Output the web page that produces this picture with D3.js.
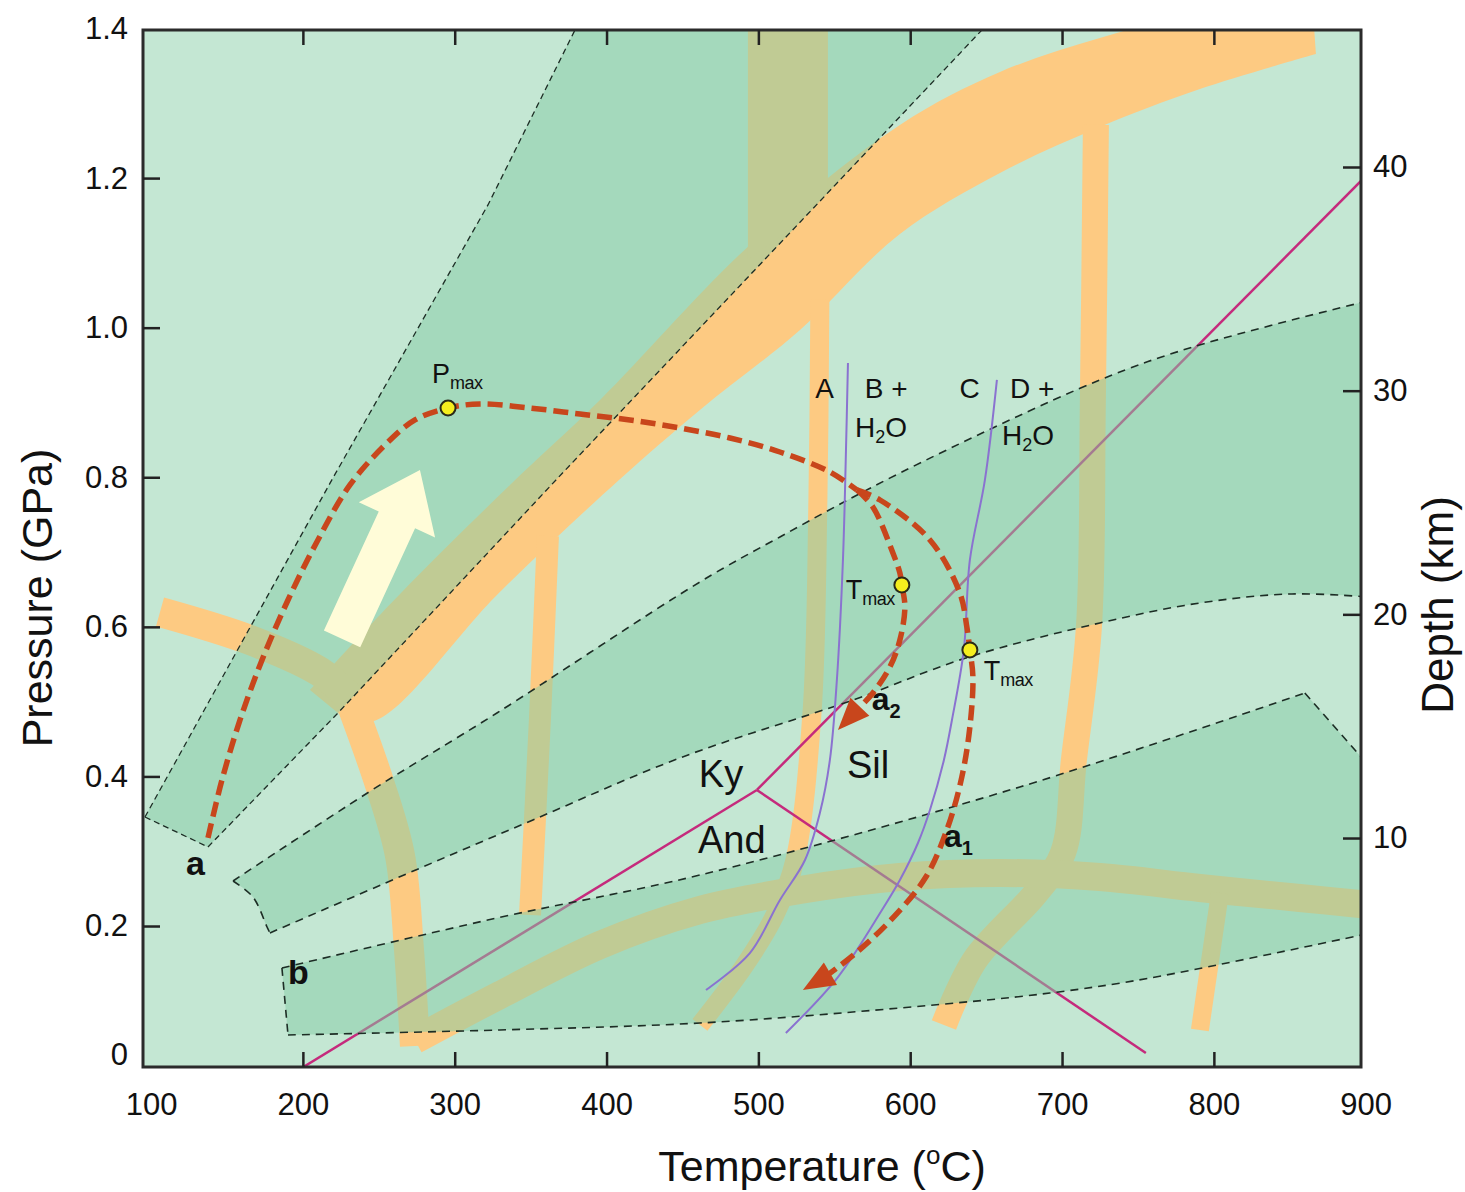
<!DOCTYPE html>
<html>
<head>
<meta charset="utf-8">
<script src="https://cdn.jsdelivr.net/npm/d3@7"></script>
<style>
  body { margin: 0; background: #fff; }
  text { font-family: "Liberation Sans", Arial, Helvetica, sans-serif; fill: #111; }
</style>
</head>
<body>
<div id="chart"></div>
<script>
// all points are [temperature (°C), pressure (GPa)]

// geotherm field "a" (the fan)
const fanALeft = [[96.0, 0.3458], [219.8, 0.7991], [321.9, 1.1641], [384.6, 1.42]];
const fanARight = [[137.5, 0.3057], [223.1, 0.4848], [366.7, 0.7964], [657.5, 1.42]];

// middle geotherm band
const geothermD1 = [[154.0, 0.2602], [243.5, 0.3792], [327.8, 0.4848], [461.5, 0.6600], [514.2, 0.7202],
  [593.2, 0.8057], [724.9, 0.9301], [786.2, 0.9742], [905, 1.0376]];
const geothermD2 = [[178.3, 0.1907], [266.6, 0.2682], [351.5, 0.3418], [448.3, 0.4247], [562.3, 0.5022],
  [636.7, 0.5584], [724.9, 0.6052], [790.8, 0.6319], [851.4, 0.6440], [905, 0.6395]];
const cornerD = [[154.0, 0.2602], [167.1, 0.2388], [176.4, 0.1987], [178.3, 0.1907]];

// geotherm field "b"
const geothermD3 = [[186.2, 0.1439], [327.8, 0.2107], [461.5, 0.2682], [672.2, 0.3859], [859.9, 0.5116]];
const peakEdge = [[859.9, 0.5116], [905, 0.4073]];
const geothermD4 = [[190.2, 0.0543], [329.8, 0.0610], [461.5, 0.0703], [593.2, 0.0904], [692.0, 0.1104],
  [757.9, 0.1305], [905, 0.1913]];
const bandBLeft = [[186.2, 0.1439], [190.2, 0.0543]];

// orange reaction bands
const mainBandUpper = [[204.7, 0.5156], [264.6, 0.6453], [336.4, 0.7897], [395.7, 0.9034], [495.8, 1.1133],
  [593.2, 1.2711], [659.1, 1.3419], [724.9, 1.3874], [790.8, 1.4221], [864.5, 1.4449]];
const mainBandLower = [[867.2, 1.3660], [790.8, 1.3192], [724.9, 1.2684], [659.1, 1.2069], [593.2, 1.1253],
  [527.4, 0.9970], [461.5, 0.8900], [408.2, 0.7964], [329.1, 0.6453], [246.8, 0.4741], [223.1, 0.4848]];
const topBand = [[493.1, 1.42], [545.8, 1.42], [545.8, 1.1708], [493.1, 1.0905]];
const bandDown = [[231.0, 0.5022], [250.8, 0.3886], [264.0, 0.2936], [269.9, 0.1679], [273.8, 0.0396]];
const bandLeft = [[105.9, 0.6199], [165.2, 0.5824], [211.3, 0.5397], [232.3, 0.5022]];
const bandA = [[540.5, 1.0371], [539.2, 0.7696], [535.3, 0.4848], [524.1, 0.2883], [510.9, 0.2147],
  [491.1, 0.1479], [461.5, 0.0677]];
const band360 = [[361.4, 0.7215], [356.1, 0.4755], [349.6, 0.2147]];
const band720 = [[722.3, 1.2711], [720.3, 0.9034], [717.7, 0.5998], [707.8, 0.4220], [700.6, 0.2976],
  [682.8, 0.2442], [642.6, 0.1546], [622.2, 0.0677]];
const bandLow = [[273.8, 0.0476], [329.8, 0.1078], [395.7, 0.1746], [461.5, 0.2214], [527.4, 0.2482],
  [593.2, 0.2655], [659.1, 0.2709], [724.9, 0.2655], [790.8, 0.2508], [856.6, 0.2375], [902.7, 0.2281]];
const band800 = [[804.0, 0.2442], [790.8, 0.0610]];

// Al2SiO5 triple point and its three boundaries
const tripleJunction = [499.0, 0.3819];
const kyAndEnd = [200.3, 0.0115];
const kySilEnd = [896.9, 1.1962];
const andSilEnd = [755.2, 0.0302];

// dehydration reactions A = B + H2O and C = D + H2O
const reactionAB = [[559.0, 0.9528], [557.7, 0.8365], [555.7, 0.6894], [551.7, 0.5290], [547.1, 0.4220],
  [540.5, 0.3511], [530.7, 0.2883], [514.2, 0.2348], [494.4, 0.1639], [465.5, 0.1145]];
const reactionCD = [[657.1, 0.9301], [649.2, 0.7964], [639.3, 0.6894], [635.3, 0.5691], [627.5, 0.4755],
  [622.2, 0.4220], [613.0, 0.3551], [605.1, 0.3110], [593.2, 0.2615], [581.4, 0.2214], [552.4, 0.1318],
  [518.1, 0.0570]];

// P-T paths
const pathCommon = [[137.5, 0.3177], [146.7, 0.3952], [158.6, 0.4755], [173.1, 0.5557], [190.2, 0.6359],
  [209.9, 0.7162], [231.0, 0.7897], [254.1, 0.8432], [273.8, 0.8766], [295.6, 0.8926], [316.6, 0.8980],
  [349.6, 0.8926], [382.5, 0.8846], [415.4, 0.8766], [448.3, 0.8659], [481.3, 0.8525], [514.2, 0.8338],
  [547.1, 0.8071], [564.9, 0.7830]];
const pathA2 = [[564.9, 0.7830], [575.4, 0.7603], [588.6, 0.6988], [593.2, 0.6720], [594.5, 0.6560],
  [596.5, 0.6266], [593.2, 0.5824], [586.6, 0.5463], [575.4, 0.5116], [563.6, 0.4862], [552.4, 0.4621]];
const pathA1 = [[564.9, 0.7830], [580.1, 0.7696], [613.0, 0.7162], [632.7, 0.6453], [637.3, 0.5998],
  [639.3, 0.5691], [641.3, 0.5330], [639.3, 0.4661], [634.0, 0.3993], [624.8, 0.3324], [610.3, 0.2655],
  [587.3, 0.2081], [564.2, 0.1639], [543.8, 0.1318], [529.3, 0.1145]];
const peakPoints = [[295.6, 0.8926], [594.5, 0.6560], [639.3, 0.5691]];
const burialArrow = [[225.8, 0.5838], [277.1, 0.8098]];

// axis ticks
const tempTicks = [200, 300, 400, 500, 600, 700, 800];
const tempLabels = [100, 200, 300, 400, 500, 600, 700, 800, 900];
const pressTicks = [0.2, 0.4, 0.6, 0.8, 1.0, 1.2];
const pressLabels = [0, 0.2, 0.4, 0.6, 0.8, 1.0, 1.2, 1.4];
const depthTicks = [10, 20, 30, 40];

// set the dimensions and margins of the graph
const margin = {top: 30, right: 104, bottom: 125, left: 143},
  width = 1465 - margin.left - margin.right,
  height = 1192 - margin.top - margin.bottom;

const svg = d3.select("#chart")
  .append("svg")
    .attr("width", width + margin.left + margin.right)
    .attr("height", height + margin.top + margin.bottom)
  .append("g")
    .attr("transform", "translate(" + margin.left + "," + margin.top + ")");

const x = d3.scaleLinear().domain([94.7, 896.9]).range([0, width]);
const y = d3.scaleLinear().domain([0.0115, 1.398]).range([height, 0]);
const depth = d3.scaleLinear().domain([0, 40]).range([1031.7, 137]);

const smooth = d3.line().x(d => x(d[0])).y(d => y(d[1])).curve(d3.curveCatmullRom.alpha(0.5));
const straight = d3.line().x(d => x(d[0])).y(d => y(d[1]));
const join = (...parts) => parts.map((p, i) => i ? p.replace(/^M/, "L") : p).join("") + "Z";

svg.append("clipPath").attr("id", "plot-clip")
  .append("rect").attr("width", width).attr("height", height);
const plot = svg.append("g").attr("clip-path", "url(#plot-clip)");

// background
plot.append("rect").attr("width", width).attr("height", height).attr("fill", "#c4e7d3");

// orange bands
const orange = "#fdca82";
plot.append("path")
  .attr("d", join(smooth(mainBandUpper), smooth(mainBandLower)))
  .attr("fill", orange);
plot.append("path").attr("d", join(straight(topBand))).attr("fill", orange);
[[bandDown, 30], [bandLeft, 30], [bandA, 19], [band360, 22], [band720, 26], [bandLow, 28], [band800, 18]]
  .forEach(function(b) {
    plot.append("path")
      .attr("d", smooth(b[0]))
      .attr("fill", "none")
      .attr("stroke", orange)
      .attr("stroke-width", b[1])
      .attr("stroke-linejoin", "round");
  });

// aluminosilicate lines (under the green fields)
plot.selectAll("line.alsi")
  .data([kyAndEnd, kySilEnd, andSilEnd])
  .join("line")
    .attr("class", "alsi")
    .attr("x1", x(tripleJunction[0])).attr("y1", y(tripleJunction[1]))
    .attr("x2", d => x(d[0])).attr("y2", d => y(d[1]))
    .attr("stroke", "#c52a7c")
    .attr("stroke-width", 2.5);

// darker geotherm fields, semi transparent
const fields = [
  join(straight(fanALeft), straight(fanARight.slice().reverse())),
  join(smooth(geothermD1), smooth(geothermD2.slice().reverse()), smooth(cornerD.slice().reverse())),
  join(smooth(geothermD3), straight(peakEdge), smooth(geothermD4.slice().reverse()))
];
plot.selectAll("path.field")
  .data(fields)
  .join("path")
    .attr("class", "field")
    .attr("d", d => d)
    .attr("fill", "#84cca6")
    .attr("fill-opacity", 0.5);

// dashed field borders
const thinDash = [straight(fanALeft), straight(fanARight), straight([fanALeft[0], fanARight[0]])];
const wideDash = [smooth(geothermD1), smooth(geothermD2), smooth(cornerD), smooth(geothermD3),
  straight(peakEdge), smooth(geothermD4), straight(bandBLeft)];
plot.selectAll("path.thin-dash")
  .data(thinDash)
  .join("path")
    .attr("class", "thin-dash")
    .attr("d", d => d)
    .attr("fill", "none").attr("stroke", "#1d2d25")
    .attr("stroke-width", 1.3).attr("stroke-dasharray", "6 4");
plot.selectAll("path.wide-dash")
  .data(wideDash)
  .join("path")
    .attr("class", "wide-dash")
    .attr("d", d => d)
    .attr("fill", "none").attr("stroke", "#1d2d25")
    .attr("stroke-width", 1.6).attr("stroke-dasharray", "8 6");

// reaction curves
plot.selectAll("path.reaction")
  .data([reactionAB, reactionCD])
  .join("path")
    .attr("class", "reaction")
    .attr("d", smooth)
    .attr("fill", "none")
    .attr("stroke", "#8a72d0")
    .attr("stroke-width", 2);

// big pale arrow (prograde burial)
(function() {
  const t0 = [x(burialArrow[0][0]), y(burialArrow[0][1])];
  const t1 = [x(burialArrow[1][0]), y(burialArrow[1][1])];
  const len = Math.hypot(t1[0] - t0[0], t1[1] - t0[1]);
  const u = [(t1[0] - t0[0]) / len, (t1[1] - t0[1]) / len];
  const n = [-u[1], u[0]];
  const shaft = 20, head = 42, headLen = 55;
  const hb = [t1[0] - u[0] * headLen, t1[1] - u[1] * headLen];
  const pts = [
    [t0[0] + n[0] * shaft, t0[1] + n[1] * shaft],
    [hb[0] + n[0] * shaft, hb[1] + n[1] * shaft],
    [hb[0] + n[0] * head, hb[1] + n[1] * head],
    t1,
    [hb[0] - n[0] * head, hb[1] - n[1] * head],
    [hb[0] - n[0] * shaft, hb[1] - n[1] * shaft],
    [t0[0] - n[0] * shaft, t0[1] - n[1] * shaft]
  ];
  plot.append("polygon")
    .attr("points", pts.map(p => p.join(",")).join(" "))
    .attr("fill", "#fffcd8");
})();

// P-T paths
const red = "#c8461c";
function ptPath(data) {
  plot.append("path")
    .attr("d", smooth(data))
    .attr("fill", "none")
    .attr("stroke", red)
    .attr("stroke-width", 5.5)
    .attr("stroke-dasharray", "15 7");
}
ptPath(pathCommon);
ptPath(pathA2.slice(0, -1));
ptPath(pathA1.slice(0, -1));

// arrow heads at the end of each branch
[pathA2, pathA1].forEach(function(p) {
  const a = p[p.length - 2], b = p[p.length - 1];
  const tip = [x(b[0]), y(b[1])];
  const from = [x(a[0]), y(a[1])];
  const len = Math.hypot(tip[0] - from[0], tip[1] - from[1]);
  const u = [(tip[0] - from[0]) / len, (tip[1] - from[1]) / len];
  const n = [-u[1], u[0]];
  const base = [tip[0] - u[0] * 32, tip[1] - u[1] * 32];
  plot.append("polygon")
    .attr("points", [tip,
      [base[0] + n[0] * 13, base[1] + n[1] * 13],
      [base[0] - n[0] * 13, base[1] - n[1] * 13]].map(q => q.join(",")).join(" "))
    .attr("fill", red);
});

// peak P and T points
plot.selectAll("circle.peak")
  .data(peakPoints)
  .join("circle")
    .attr("class", "peak")
    .attr("cx", d => x(d[0]))
    .attr("cy", d => y(d[1]))
    .attr("r", 7.5)
    .attr("fill", "#f5ee1e")
    .attr("stroke", "#2a2a18")
    .attr("stroke-width", 2);

// labels: [main text, subscript, tail, T, P, size, bold]
const labels = [
  ["P", "max", "", 285.0, 0.9261, 27, false],
  ["T", "max", "", 557.6, 0.6373, 27, false],
  ["T", "max", "", 648.5, 0.5290, 27, false],
  ["a", "2", "", 574.7, 0.4888, 32, true],
  ["a", "1", "", 622.2, 0.3057, 32, true],
  ["a", "", "", 123.0, 0.2682, 34, true],
  ["b", "", "", 190.2, 0.1225, 34, true],
  ["Ky", "", "", 460.8, 0.3859, 38, false],
  ["Sil", "", "", 558.3, 0.3979, 38, false],
  ["And", "", "", 460.2, 0.2976, 38, false],
  ["A", "", "", 537.5, 0.9060, 28, false],
  ["B +", "", "", 570.1, 0.9060, 28, false],
  ["H", "2", "O", 563.6, 0.8539, 28, false],
  ["C", "", "", 632.5, 0.9060, 28, false],
  ["D +", "", "", 665.7, 0.9060, 28, false],
  ["H", "2", "O", 660.4, 0.8432, 28, false]
];
labels.forEach(function(l) {
  const t = svg.append("text")
    .attr("x", x(l[3]))
    .attr("y", y(l[4]))
    .attr("font-size", l[5])
    .attr("font-weight", l[6] ? "bold" : "normal");
  t.append("tspan").text(l[0]);
  if (l[1]) {
    t.append("tspan")
      .attr("font-size", Math.round(l[5] * (l[6] ? 0.62 : 0.66)))
      .attr("dy", l[6] ? 8 : 6)
      .attr("letter-spacing", l[1] === "max" ? -0.5 : 0)
      .text(l[1]);
  }
  if (l[2]) {
    t.append("tspan").attr("dy", -6).text(l[2]);
  }
});

// frame
svg.append("rect")
  .attr("width", width).attr("height", height)
  .attr("fill", "none").attr("stroke", "#2b2b2b").attr("stroke-width", 3);

// inward ticks
function styleAxis(g, size) {
  g.select(".domain").remove();
  g.selectAll("line").attr("stroke", "#222").attr("stroke-width", 2.5);
  g.selectAll("text").attr("font-size", size).attr("font-family", "Liberation Sans, Arial, sans-serif").attr("fill", "#111");
}
svg.append("g").attr("transform", "translate(0," + height + ")")
  .call(d3.axisBottom(x).tickValues(tempTicks).tickSize(-15).tickFormat(""))
  .call(g => styleAxis(g, 31));
svg.append("g")
  .call(d3.axisTop(x).tickValues(tempTicks).tickSize(-15).tickFormat(""))
  .call(g => styleAxis(g, 31));
svg.append("g")
  .call(d3.axisLeft(y).tickValues(pressTicks).tickSize(-17).tickFormat(""))
  .call(g => styleAxis(g, 31));
svg.append("g").attr("transform", "translate(" + width + ",0)")
  .call(d3.axisRight(depth).tickValues(depthTicks).tickSize(-18).tickFormat(""))
  .call(g => styleAxis(g, 31));

// tick labels
svg.append("g").attr("transform", "translate(0," + height + ")")
  .call(d3.axisBottom(x).tickValues(tempLabels).tickSize(0).tickPadding(26).tickFormat(d3.format("d")))
  .call(g => styleAxis(g, 31));
svg.append("g")
  .call(d3.axisLeft(y).tickValues(pressLabels).tickSize(0).tickPadding(15)
    .tickFormat(d => d === 0 ? "0" : d3.format(".1f")(d)))
  .call(g => styleAxis(g, 31))
  .call(g => g.selectAll(".tick").filter(d => d === 0).select("text").attr("dy", "-0.35em"));
svg.append("g").attr("transform", "translate(" + width + ",0)")
  .call(d3.axisRight(depth).tickValues(depthTicks).tickSize(0).tickPadding(12).tickFormat(d3.format("d")))
  .call(g => styleAxis(g, 31));

// axis titles
const xTitle = svg.append("text")
  .attr("x", 679).attr("y", height + 114)
  .attr("text-anchor", "middle").attr("font-size", 43)
  .text("Temperature (");
xTitle.append("tspan").attr("font-size", 26).attr("dy", -17).text("o");
xTitle.append("tspan").attr("dy", 17).text("C)");

svg.append("text")
  .attr("transform", "translate(-91," + 568 + ") rotate(-90)")
  .attr("text-anchor", "middle").attr("font-size", 43)
  .text("Pressure (GPa)");
svg.append("text")
  .attr("transform", "translate(" + (width + 92) + "," + 575 + ") rotate(-90)")
  .attr("text-anchor", "middle").attr("font-size", 44)
  .text("Depth (km)");
</script>
</body>
</html>
